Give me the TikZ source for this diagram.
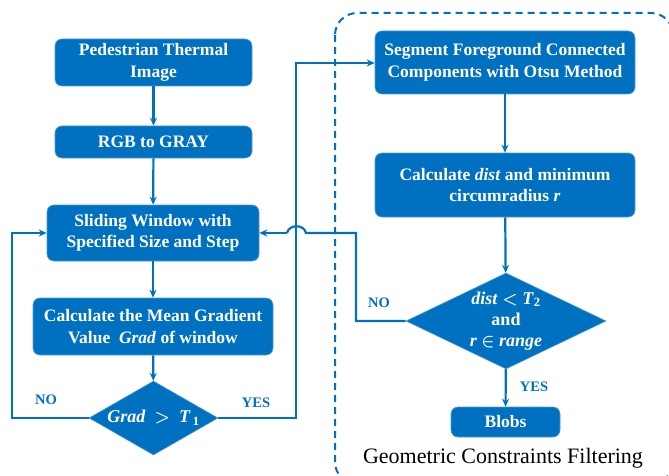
\documentclass[tikz,border=0pt]{standalone}
\usepackage{amsmath}
\usepackage{fontspec}
\setmainfont{Liberation Serif}
\usetikzlibrary{shapes.geometric,arrows.meta}
\definecolor{blu}{RGB}{0,112,192}
\tikzset{
  box/.style={draw=blu!70, line width=0.6pt, fill=blu, rounded corners=7pt, text=white, align=center, inner sep=0pt,
    font=\fontsize{17.5}{21.5}\selectfont\bfseries},
  dia/.style={draw=blu!70, line width=0.6pt, fill=blu, shape=diamond, inner sep=0pt},
  diatext/.style={text=white, align=center, inner sep=0pt, font=\fontsize{18}{21}\selectfont\bfseries\boldmath},
  conn/.style={draw=blu, line width=2.2pt, -{Stealth[length=8pt,width=7pt]}},
  line/.style={draw=blu, line width=2.2pt},
  lab/.style={text=blu, font=\fontsize{14.5}{16}\selectfont\bfseries, inner sep=0pt},
}
\begin{document}
\begin{tikzpicture}[x=1pt,y=-1pt]
\useasboundingbox (0,0) rectangle (669,476);
% dashed frame
\draw[blu, line width=2pt, dash pattern=on 7pt off 5pt, rounded corners=22pt] (335,13) rectangle (673,484);
\node[font=\fontsize{22}{24}\selectfont, text=black] (title) at (503,458) {Geometric Constraints Filtering};

% left column
\node[box, minimum width=197pt, minimum height=47pt] (b1) at (153.5,62.5) {Pedestrian Thermal\\Image};
\node[box, minimum width=197pt, minimum height=32pt] (b2) at (153.5,142) {RGB to GRAY};
\node[box, minimum width=212pt, minimum height=56pt] (b3) at (153,233) {Sliding Window with\\Specified Size and Step};
\node[box, minimum width=240pt, minimum height=57pt] (b4) at (153,326.5) {Calculate the Mean Gradient\\Value \ \textit{Grad} of window};
\node[dia, minimum width=129pt, minimum height=74pt] (d1) at (153.5,418) {};
\node[diatext] (d1t) at (d1.center) {\textit{Grad} \ $>$ \ \textit{T}\textsubscript{\,1}};

% right column
\node[box, minimum width=260pt, minimum height=63pt] (s1) at (505,62.5) {Segment Foreground Connected\\Components with Otsu Method};
\node[box, minimum width=260pt, minimum height=64pt] (s2) at (505,185) {Calculate \textit{dist} and minimum\\circumradius \textit{r}};
\node[dia, minimum width=200pt, minimum height=96pt] (d2) at (506,321) {};
\node[diatext] (d2t) at (d2.center) {\textit{dist} $<$ \textit{T}\textsubscript{2}\\and\\\textit{r} $\in$ \textit{range}};
\node[box, minimum width=109pt, minimum height=30pt] (bl) at (505.5,422) {Blobs};

% connectors
\draw[conn] (b1) -- (b2);
\draw[conn] (b2) -- (b3);
\draw[conn] (b3) -- (b4);
\draw[conn] (b4) -- (d1);
\draw[conn] (d1.west) -- (12,418) -- (12,233) -- (b3.west);
\draw[conn] (d1.east) -- (296,418) -- (296,63) -- (s1.west |- 296,63);
\draw[conn] (s1) -- (s2);
\draw[conn] (s2) -- (d2);
\draw[conn] (d2) -- (bl);
\coordinate (hopR) at (306,233);
\coordinate (hopL) at (287,233);
\draw[line] (d2.west) -- (356,321) -- (356,233) -- (hopR) .. controls (304,224) and (289,224) .. (hopL);
\draw[conn] (hopL) -- (b3.east);

% labels
\node[lab] (no1) at (46,400) {NO};
\node[lab] (yes1) at (256,403) {YES};
\node[lab] (no2) at (379,303) {NO};
\node[lab] (yes2) at (534,387) {YES};
\end{tikzpicture}
\end{document}
